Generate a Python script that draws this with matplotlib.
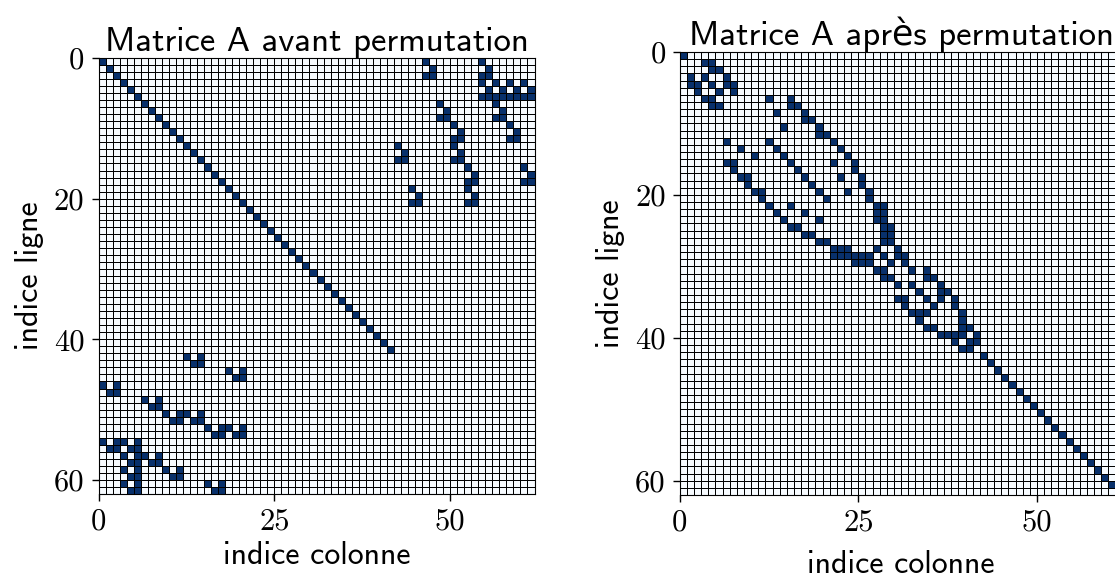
import numpy as np
import matplotlib
matplotlib.use("Agg")
import matplotlib.pyplot as plt

# size of the matrix and number of leading rows with a 1 on the diagonal
n = 62
n_diag = 42

# rows 42..61 : columns holding a 1 (A is symmetric)
e_rows = list(range(42, 62))
e_cols = [[12, 14], [13, 14], [18, 20], [19, 20], [0, 2], [1, 2], [6, 8], [7, 8],
          [9, 11, 12, 14], [10, 11, 13, 14], [15, 17, 18, 20], [16, 17, 19, 20],
          [0, 2, 3, 5], [1, 2, 4, 5], [3, 5, 6, 8], [4, 5, 7, 8],
          [3, 5, 9, 11], [4, 5, 10, 11], [3, 5, 15, 17], [4, 5, 16, 17]]

# new order of rows/columns (reverse Cuthill-McKee like)
perm = [21, 43, 42, 13, 14, 12, 51, 50, 49, 48, 47, 46, 10, 7, 1, 11, 9, 8, 6, 2, 0,
        59, 57, 55, 58, 56, 54, 4, 5, 3, 61, 60, 16, 19, 17, 15, 53, 45, 52, 20, 18, 44,
        22, 23, 24, 25, 26, 27, 28, 29, 30, 31, 32, 33, 34, 35, 36, 37, 38, 39, 40, 41]

xticks = [0, 25, 50]
yticks = [0, 20, 40, 60]

A = np.zeros((n, n))
for i in range(n_diag):
    A[i, i] = 1
for r, cols in zip(e_rows, e_cols):
    for c in cols:
        A[r, c] = 1
        A[c, r] = 1
B = A[perm][:, perm]

sans = ["cmss10", "DejaVu Sans"]
serif = ["cmr10", "DejaVu Serif"]

fig = plt.figure(figsize=(11.15, 5.79), dpi=100)
ax1 = fig.add_axes([98.5 / 1115, 85 / 579, 436 / 1115, 436 / 579])
ax2 = fig.add_axes([679.7 / 1115, 84 / 579, 443 / 1115, 443 / 579])


def draw(ax, M, title, xpad):
    ax.pcolormesh(M, cmap="Blues", vmin=0, vmax=1, edgecolors="k", linewidth=0.6)
    ax.set_xlim(0, n)
    ax.set_ylim(n, 0)
    ax.set_xticks(xticks)
    ax.set_yticks(yticks)
    ax.set_xticklabels([str(t) for t in xticks], fontfamily=serif, fontsize=22)
    ax.set_yticklabels([str(t) for t in yticks], fontfamily=serif, fontsize=22)
    ax.tick_params(length=5, width=1, pad=5)
    ax.set_title(title, fontfamily=sans, fontsize=25, pad=5)
    ax.set_xlabel("indice colonne", fontfamily=sans, fontsize=23, labelpad=xpad)
    ax.set_ylabel("indice ligne", fontfamily=sans, fontsize=23, labelpad=7)


draw(ax1, A, "Matrice A avant permutation", 4)
draw(ax2, B, "Matrice A après permutation", 10)

fig.savefig("out.png", dpi=100)
